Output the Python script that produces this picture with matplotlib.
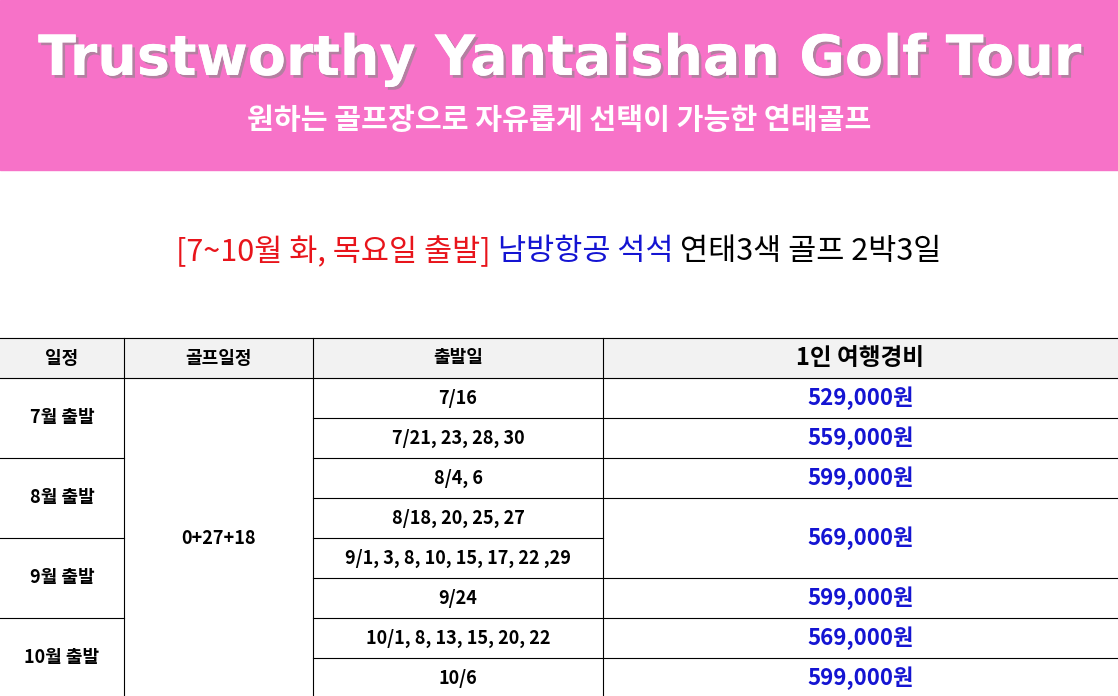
import matplotlib.pyplot as plt
import matplotlib.patheffects as pe
from matplotlib.patches import Rectangle

plt.rcParams['font.family'] = ['Noto Sans CJK KR', 'DejaVu Sans']

title = "Trustworthy Yantaishan Golf Tour"
subtitle = "원하는 골프장으로 자유롭게 선택이 가능한 연태골프"
heading = [("[7~10월 화, 목요일 출발] ", "#e8141b"), ("남방항공 석석 ", "#1414d2"), ("연태3색 골프 2박3일", "black")]

headers = ["일정", "골프일정", "출발일", "1인 여행경비"]
months = [("7월 출발", 0, 2), ("8월 출발", 2, 4), ("9월 출발", 4, 6), ("10월 출발", 6, 8)]
golf = "0+27+18"
dates = ["7/16", "7/21, 23, 28, 30", "8/4, 6", "8/18, 20, 25, 27",
         "9/1, 3, 8, 10, 15, 17, 22 ,29", "9/24", "10/1, 8, 13, 15, 20, 22", "10/6"]
prices = [("529,000원", 0, 1), ("559,000원", 1, 2), ("599,000원", 2, 3), ("569,000원", 3, 5),
          ("599,000원", 5, 6), ("569,000원", 6, 7), ("599,000원", 7, 8)]

W, H = 1118, 696
fig = plt.figure(figsize=(W / 100, H / 100), dpi=100)
ax = fig.add_axes([0, 0, 1, 1])
ax.set_xlim(0, W)
ax.set_ylim(H, 0)
ax.axis('off')

# banner
ax.add_patch(Rectangle((0, 0), W, 170, color="#f772c8", zorder=0))
ax.text(W / 2, 60, title, color="white", fontsize=40, fontweight='bold', ha='center', va='center',
        family=['DejaVu Sans'],
        path_effects=[pe.withSimplePatchShadow(offset=(2, -2), shadow_rgbFace='#888888', alpha=0.6), pe.Normal()])
ax.text(W / 2, 120, subtitle, color="white", fontsize=21, fontweight='bold', ha='center', va='center')

# multi-colour heading
fig.canvas.draw()
r = fig.canvas.get_renderer()
parts = []
total = 0
for s, c in heading:
    t = ax.text(0, 252, s, color=c, fontsize=22, va='center', ha='left')
    w = t.get_window_extent(r).width
    parts.append((t, w))
    total += w
x = (W - total) / 2
for t, w in parts:
    t.set_x(x)
    x += w

# table
cols = [0, 124, 313, 603, W]
top, hh, rh = 338, 40, 40
ax.add_patch(Rectangle((0, top), W, hh, color="#f2f2f2", zorder=0))
line = dict(color="black", lw=0.8)
for i, h in enumerate(headers):
    cx = (cols[i] + cols[i + 1]) / 2
    ax.text(cx, top + hh / 2, h, fontsize=17 if i == 3 else 13, fontweight='bold', ha='center', va='center')
ax.plot([0, W], [top, top], **line)
ax.plot([0, W], [top + hh, top + hh], **line)
y0 = top + hh
nrows = len(dates)
bottom = y0 + nrows * rh
for xc in cols[1:-1]:
    ax.plot([xc, xc], [top, bottom], **line)

for name, a, b in months:
    ax.text(62, y0 + (a + b) / 2 * rh, name, fontsize=13, fontweight='bold', ha='center', va='center')
    ax.plot([0, cols[1]], [y0 + b * rh, y0 + b * rh], **line)
ax.text((cols[1] + cols[2]) / 2, y0 + nrows / 2 * rh, golf, fontsize=13, fontweight='bold', ha='center', va='center')
for i, d in enumerate(dates):
    ax.text((cols[2] + cols[3]) / 2, y0 + (i + 0.5) * rh, d, fontsize=13, fontweight='bold', ha='center', va='center')
    ax.plot([cols[2], cols[3]], [y0 + (i + 1) * rh] * 2, **line)
for p, a, b in prices:
    ax.text((cols[3] + cols[4]) / 2, y0 + (a + b) / 2 * rh, p, fontsize=16, fontweight='bold',
            color="#1414d2", ha='center', va='center')
    ax.plot([cols[3], cols[4]], [y0 + b * rh] * 2, **line)

fig.savefig("out.png", dpi=100)
